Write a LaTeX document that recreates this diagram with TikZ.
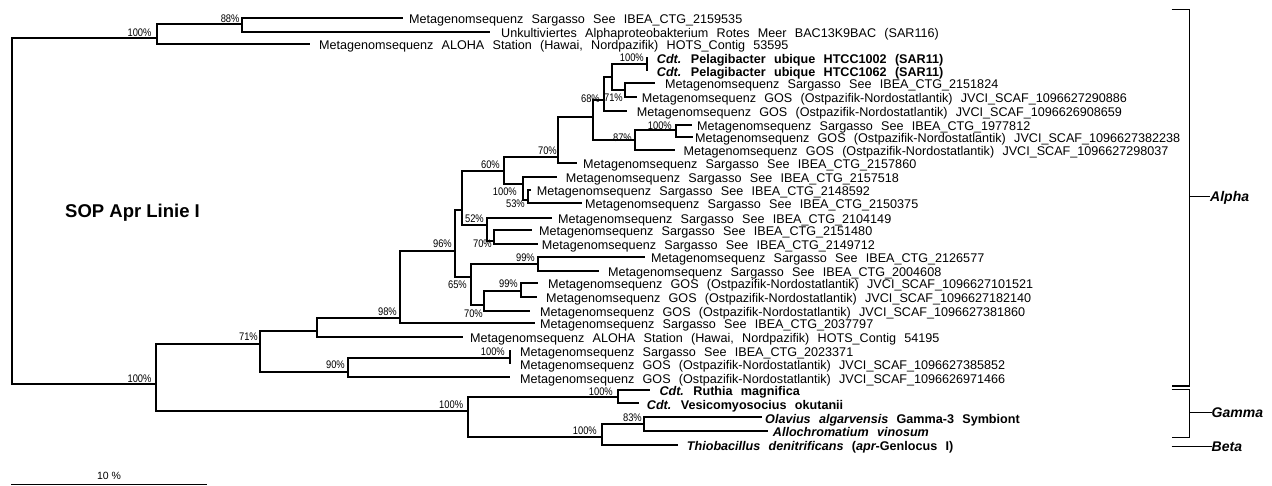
\documentclass[tikz,border=0pt]{standalone}
\usepackage{fontspec}
\setmainfont{Liberation Sans}
\newfontfamily\pctfont[FakeStretch=0.85]{Liberation Sans}
\newcommand\leaffont{\fontsize{12.6pt}{14pt}\selectfont\spaceskip=8.3pt\relax}
\newcommand\pctsize{\pctfont\fontsize{11pt}{12pt}\selectfont}
\tikzset{
  br/.style={line width=2pt},
  leaf/.style={anchor=base west, inner sep=0pt, font=\leaffont, yshift=-5.7pt},
  pct/.style={anchor=base east, inner sep=0pt, font=\pctsize, yshift=-3.9pt},
  grp/.style={line width=1.3pt},
  grplabel/.style={anchor=base west, inner sep=0pt, font=\fontsize{14pt}{16pt}\selectfont\bfseries\itshape, yshift=-5pt},
}
\begin{document}
\begin{tikzpicture}[x=1pt,y=-1pt]
\fill[white] (0,0) rectangle (1272,486);
\useasboundingbox (0,0) rectangle (1272,486);

% internal nodes of the tree
\coordinate (root) at (11.7,37.7);
\coordinate (A) at (156.7,37.7);
\coordinate (B) at (241.7,24.3);
\coordinate (C) at (156.3,384.3);
\coordinate (D) at (260,344.3);
\coordinate (E) at (316.7,331);
\coordinate (F) at (400,317.7);
\coordinate (G) at (455,251);
\coordinate (R) at (461.7,210);
\coordinate (H) at (504,171.5);
\coordinate (AE) at (558.3,156.7);
\coordinate (AB) at (593.3,116.7);
\coordinate (AA) at (603.5,100);
\coordinate (Y) at (611.7,76.7);
\coordinate (Pel) at (646.7,64);
\coordinate (Z) at (625,90);
\coordinate (AC) at (635,140);
\coordinate (AD) at (675.5,130);
\coordinate (P) at (522.7,184.3);
\coordinate (Q) at (527.5,200);
\coordinate (T) at (486.7,225);
\coordinate (U) at (494,241);
\coordinate (S) at (470.7,276.7);
\coordinate (V) at (538.3,264);
\coordinate (W) at (484,305);
\coordinate (X) at (520.7,290.7);
\coordinate (I) at (348.3,371.7);
\coordinate (J) at (510,358.3);
\coordinate (K) at (468.3,411);
\coordinate (L) at (618.3,397.3);
\coordinate (M) at (601.7,437.3);
\coordinate (N) at (644.3,424);

% leaf branch ends
\coordinate (l1) at (403,17.7);
\coordinate (l2) at (490,31.7);
\coordinate (l3) at (310,44.3);
\coordinate (l4) at (646.7,57.3);
\coordinate (l5) at (646.7,71);
\coordinate (l6) at (655,83.3);
\coordinate (l7) at (636.7,96.7);
\coordinate (l8) at (627.3,110.7);
\coordinate (l9) at (691.7,125);
\coordinate (l10) at (693.3,137.3);
\coordinate (l11) at (675,150);
\coordinate (l12) at (577,163.3);
\coordinate (l13) at (556.7,176.7);
\coordinate (l14) at (530.5,190);
\coordinate (l15) at (581.7,203.3);
\coordinate (l16) at (551.7,218.3);
\coordinate (l17) at (531.7,230);
\coordinate (l18) at (538,244.3);
\coordinate (l19) at (645,257.3);
\coordinate (l20) at (599,270.7);
\coordinate (l21) at (538,283.3);
\coordinate (l22) at (536.7,297.3);
\coordinate (l23) at (530,310.7);
\coordinate (l24) at (535,323.3);
\coordinate (l25) at (463.3,337.3);
\coordinate (l26) at (510,350);
\coordinate (l27) at (510,364);
\coordinate (l28) at (510,377.3);
\coordinate (l29) at (650,390);
\coordinate (l30) at (639.3,403.3);
\coordinate (l31) at (762,417.3);
\coordinate (l32) at (768,430.7);
\coordinate (l33) at (678,445);

% branches
\draw[br] (A) -- (root) |- (C);
\foreach \p/\c in {A/B, A/l3, B/l1, B/l2, C/D, C/K, D/E, D/I, E/F, E/l25,
  F/G, F/l24, G/R, G/S, R/H, R/T, H/AE, H/P, AE/AB, AE/l12, AB/AA, AB/AC,
  AA/Y, AA/l8, Y/Pel, Y/Z, Pel/l4, Pel/l5, Z/l6, Z/l7, AC/AD, AC/l11,
  AD/l9, AD/l10, P/l13, P/Q, Q/l14, Q/l15, T/l16, T/U, U/l17, U/l18,
  S/V, S/W, V/l19, V/l20, W/X, W/l23, X/l21, X/l22, I/J, I/l28,
  J/l26, J/l27, K/L, K/M, L/l29, L/l30, M/N, M/l33, N/l31, N/l32}
  \draw[br] (\p) |- (\c);

% leaf labels
\node[leaf] (t1) at (409,17.7) {Metagenomsequenz Sargasso See IBEA\_CTG\_2159535};
\node[leaf] (t2) at (501,31.7) {Unkultiviertes Alphaproteobakterium Rotes Meer BAC13K9BAC (SAR116)};
\node[leaf] (t3) at (319,44.3) {Metagenomsequenz ALOHA Station (Hawai, Nordpazifik) HOTS\_Contig 53595};
\node[leaf] (t4) at (656.7,57.8) {\bfseries\itshape Cdt.\upshape{} Pelagibacter ubique HTCC1002 (SAR11)};
\node[leaf] (t5) at (656.7,71.2) {\bfseries\itshape Cdt.\upshape{} Pelagibacter ubique HTCC1062 (SAR11)};
\node[leaf] (t6) at (665,83.3) {Metagenomsequenz Sargasso See IBEA\_CTG\_2151824};
\node[leaf] (t7) at (641.7,96.7) {Metagenomsequenz GOS (Ostpazifik-Nordostatlantik) JVCI\_SCAF\_1096627290886};
\node[leaf] (t8) at (636.7,110.7) {Metagenomsequenz GOS (Ostpazifik-Nordostatlantik) JVCI\_SCAF\_1096626908659};
\node[leaf] (t9) at (697,125) {Metagenomsequenz Sargasso See IBEA\_CTG\_1977812};
\node[leaf] (t10) at (695,137.3) {Metagenomsequenz GOS (Ostpazifik-Nordostatlantik) JVCI\_SCAF\_1096627382238};
\node[leaf] (t11) at (683.3,150) {Metagenomsequenz GOS (Ostpazifik-Nordostatlantik) JVCI\_SCAF\_1096627298037};
\node[leaf] (t12) at (583,163.3) {Metagenomsequenz Sargasso See IBEA\_CTG\_2157860};
\node[leaf] (t13) at (565.7,176.7) {Metagenomsequenz Sargasso See IBEA\_CTG\_2157518};
\node[leaf] (t14) at (536.7,190) {Metagenomsequenz Sargasso See IBEA\_CTG\_2148592};
\node[leaf] (t15) at (585,203.3) {Metagenomsequenz Sargasso See IBEA\_CTG\_2150375};
\node[leaf] (t16) at (558,218.3) {Metagenomsequenz Sargasso See IBEA\_CTG\_2104149};
\node[leaf] (t17) at (539,230) {Metagenomsequenz Sargasso See IBEA\_CTG\_2151480};
\node[leaf] (t18) at (541.7,244.3) {Metagenomsequenz Sargasso See IBEA\_CTG\_2149712};
\node[leaf] (t19) at (651,257.3) {Metagenomsequenz Sargasso See IBEA\_CTG\_2126577};
\node[leaf] (t20) at (608,270.7) {Metagenomsequenz Sargasso See IBEA\_CTG\_2004608};
\node[leaf] (t21) at (548,283.3) {Metagenomsequenz GOS (Ostpazifik-Nordostatlantik) JVCI\_SCAF\_1096627101521};
\node[leaf] (t22) at (546,297.3) {Metagenomsequenz GOS (Ostpazifik-Nordostatlantik) JVCI\_SCAF\_1096627182140};
\node[leaf] (t23) at (540,310.7) {Metagenomsequenz GOS (Ostpazifik-Nordostatlantik) JVCI\_SCAF\_1096627381860};
\node[leaf] (t24) at (540,323.3) {Metagenomsequenz Sargasso See IBEA\_CTG\_2037797};
\node[leaf] (t25) at (470,337.3) {Metagenomsequenz ALOHA Station (Hawai, Nordpazifik) HOTS\_Contig 54195};
\node[leaf] (t26) at (520,350.5) {Metagenomsequenz Sargasso See IBEA\_CTG\_2023371};
\node[leaf] (t27) at (520,363.5) {Metagenomsequenz GOS (Ostpazifik-Nordostatlantik) JVCI\_SCAF\_1096627385852};
\node[leaf] (t28) at (520,377.3) {Metagenomsequenz GOS (Ostpazifik-Nordostatlantik) JVCI\_SCAF\_1096626971466};
\node[leaf] (t29) at (659.3,390) {\bfseries\itshape Cdt.\upshape{} Ruthia magnifica};
\node[leaf] (t30) at (646.7,403.3) {\bfseries\itshape Cdt.\upshape{} Vesicomyosocius okutanii};
\node[leaf] (t31) at (765,417.3) {\bfseries\itshape Olavius algarvensis\upshape{} Gamma-3 Symbiont};
\node[leaf] (t32) at (772.7,430.7) {\bfseries\itshape Allochromatium vinosum};
\node[leaf] (t33) at (686.7,445) {\bfseries\itshape Thiobacillus denitrificans\upshape{} (\itshape apr\upshape -Genlocus I)};

% bootstrap support values
\node[pct] (pB) at (239.7,18.3) {88\%};
\node[pct] (pA) at (151.7,32.3) {100\%};
\node[pct] (pPel) at (644,57.5) {100\%};
\node[pct] (pZ) at (623,97.5) {71\%};
\node[pct] (pAA) at (600,99) {68\%};
\node[pct] (pAD) at (672,126) {100\%};
\node[pct] (pAC) at (632,138) {87\%};
\node[pct] (pAE) at (557,151) {70\%};
\node[pct] (pH) at (500,164.5) {60\%};
\node[pct] (pP) at (517,192) {100\%};
\node[pct] (pQ) at (525,203.5) {53\%};
\node[pct] (pT) at (484,218.3) {52\%};
\node[pct] (pU) at (492,243.3) {70\%};
\node[pct] (pG) at (452,243.7) {96\%};
\node[pct] (pV) at (535,257.5) {99\%};
\node[pct] (pS) at (467,285) {65\%};
\node[pct] (pX) at (518,284) {99\%};
\node[pct] (pW) at (483,313.3) {70\%};
\node[pct] (pF) at (397,311.7) {98\%};
\node[pct] (pD) at (258,336.7) {71\%};
\node[pct] (pI) at (345,365) {90\%};
\node[pct] (pC) at (151.7,378.3) {100\%};
\node[pct] (pJ) at (505,351.5) {100\%};
\node[pct] (pK) at (463.3,404.3) {100\%};
\node[pct] (pL) at (613,391.7) {100\%};
\node[pct] (pM) at (597,430.7) {100\%};
\node[pct] (pN) at (642,417.3) {83\%};

% lineage title
\node[anchor=base west, inner sep=0pt, font=\fontsize{18.5pt}{20pt}\selectfont\bfseries] (title) at (65,217.3) {SOP Apr Linie I};

% group brackets
\node[grplabel] (alpha) at (1210,196.7) {Alpha};
\node[grplabel] (gamma) at (1211.5,412.3) {Gamma};
\node[grplabel] (beta) at (1211.5,446.7) {Beta};
\coordinate (a1) at (1171.7,9.3);
\coordinate (a2) at (1171.7,386);
\coordinate (ak) at (1189.3,196.7);
\coordinate (g1) at (1171.7,389.5);
\coordinate (g2) at (1171.7,437.3);
\coordinate (gk) at (1189.3,412.3);
\coordinate (b1) at (1171.7,446.7);
\draw[grp] (a1) -| (ak) |- (a2);
\draw[grp] (ak) -- (alpha.base west |- ak);
\draw[grp] (g1) -| (gk) |- (g2);
\draw[grp] (gk) -- (gamma.base west |- gk);
\draw[grp] (b1) -- (beta.base west |- b1);

% scale bar
\coordinate (s1) at (11,484.3);
\coordinate (s2) at (206.7,484.3);
\draw[grp] (s1) -- (s2);
\node[anchor=base, inner sep=0pt, font=\fontsize{10.5pt}{12pt}\selectfont] (scale) at (109,479.3) {10 \%};
\end{tikzpicture}
\end{document}
